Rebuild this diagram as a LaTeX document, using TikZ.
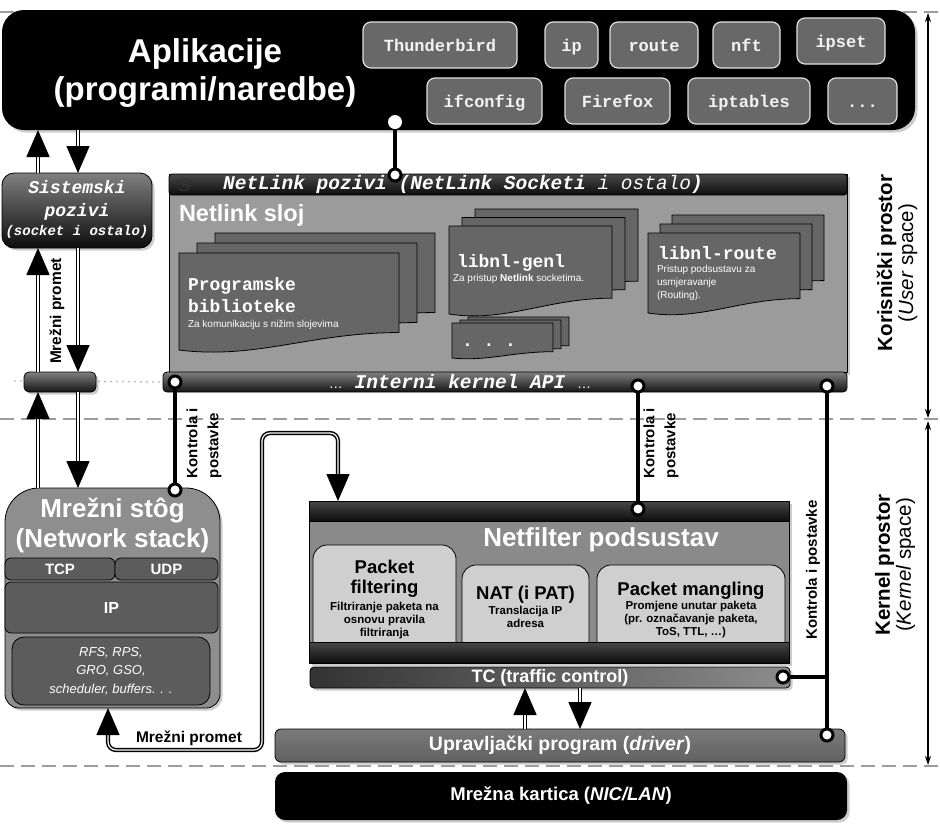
\documentclass[tikz,border=0pt]{standalone}
\usepackage{fontspec}
\setmainfont{Liberation Sans}
\setmonofont{Liberation Mono}
\usetikzlibrary{arrows.meta,shadows}

\definecolor{nlgray}{HTML}{9B9B9B}
\definecolor{docgray}{HTML}{666666}
\definecolor{toolgray}{HTML}{686868}
\definecolor{stackgray}{HTML}{8E8E8E}
\definecolor{layergray}{HTML}{5C5C5C}
\definecolor{nfgray}{HTML}{8A8A8A}
\definecolor{subgray}{HTML}{CFCFCF}
\definecolor{divgray}{HTML}{9C9C9C}
\definecolor{drvgray}{HTML}{6B6B6B}

\tikzset{
  every node/.style={inner sep=0pt, outer sep=0pt},
  boxshadow/.style={drop shadow={shadow xshift=2.5pt, shadow yshift=-2.5pt, opacity=.4}},
  appbox/.style={fill=black, rounded corners=22pt},
  apptitle/.style={text=white, font=\bfseries\fontsize{33}{38}\selectfont, align=center, anchor=north},
  tool/.style={fill=toolgray, draw=black!12, line width=1.2pt, rounded corners=8pt, text=black!5,
    font=\ttfamily\bfseries\fontsize{17}{20}\selectfont, minimum height=46pt, text height=13pt, text depth=0pt},
  syscall/.style={top color=black!50, bottom color=black!95, draw=black, line width=.8pt, rounded corners=12pt},
  calltext/.style={text=white, font=\ttfamily\bfseries\itshape\fontsize{18}{23}\selectfont, align=center},
  darkbar/.style={top color=black!72, bottom color=black!95, draw=black, line width=.8pt},
  apibar/.style={top color=black!50, bottom color=black!92, draw=black, line width=.8pt, rounded corners=4pt},
  docpage/.style={fill=docgray, draw=black, line width=.8pt},
  doctitle/.style={text=white, font=\ttfamily\bfseries\fontsize{18}{22}\selectfont, anchor=base west},
  docnote/.style={text=white, font=\fontsize{10}{13}\selectfont, anchor=base west, align=left},
  layer/.style={fill=layergray, draw=black, line width=.8pt, rounded corners=6pt, text=white,
    font=\bfseries\fontsize{15}{18}\selectfont},
  subbox/.style={fill=subgray, draw=black, line width=.8pt, rounded corners=14pt},
  subtitle/.style={font=\bfseries\fontsize{18.5}{20}\selectfont, align=center, anchor=north},
  subnote/.style={font=\bfseries\fontsize{11.5}{13}\selectfont, align=center, anchor=north},
  tcbar/.style={left color=black!80, right color=black!45, draw=black, line width=.8pt, rounded corners=4pt,
    text=white, font=\bfseries\fontsize{18}{20}\selectfont},
  traffic/.style={draw=black, double=white, double distance=1.2pt, line width=1.5pt,
    -{Triangle[length=27pt,width=23pt]}},
  ctrlline/.style={draw=black, line width=4pt},
  joint/.style={circle, fill=white, draw=black, line width=3pt, minimum size=12pt},
  ctrllabel/.style={rotate=90, font=\bfseries\fontsize{15}{21}\selectfont, align=left, anchor=west},
  divider/.style={draw=divgray, line width=2.5pt, dash pattern=on 14pt off 7pt},
  span/.style={line width=1.2pt, {Stealth[length=9pt,width=6pt]}-{Stealth[length=9pt,width=6pt]}},
  sidelabel/.style={rotate=90, align=center, font=\fontsize{20.5}{21}\selectfont},
}

% three stacked pages: x, y, width, height, dx, dy
\newcommand\libstack[6]{%
  \foreach \k in {2,1,0}{%
    \pgfmathsetmacro\pgx{#1+\k*#5}\pgfmathsetmacro\pgy{#2-\k*#6}%
    \draw[docpage] (\pgx,\pgy) -- ({\pgx+#3},\pgy) -- ({\pgx+#3},{\pgy+0.82*#4})
      .. controls ({\pgx+0.6*#3},{\pgy+0.82*#4}) and ({\pgx+0.35*#3},{\pgy+1.1*#4}) .. (\pgx,{\pgy+#4}) -- cycle;
  }}

\begin{document}
\begin{tikzpicture}[x=1pt, y=-1pt]
\useasboundingbox (0,0) rectangle (940,831);

% granice prostora
\draw[divider] (0,12) -- (940,12);
\draw[divider] (0,419) -- (940,419);
\draw[divider] (0,766) -- (940,766);

% aplikacije
\node[appbox, boxshadow, minimum width=913pt, minimum height=120pt] (apps) at (458.5,70) {};
\node[apptitle] (apptitle) at (205,39) {Aplikacije\\(programi/naredbe)};
\node[tool, minimum width=154pt] (thunderbird) at (440,45) {Thunderbird};
\node[tool, minimum width=53pt] (ip) at (571.5,45) {ip};
\node[tool, minimum width=88pt] (route) at (654,45) {route};
\node[tool, minimum width=67pt] (nft) at (746.5,45) {nft};
\node[tool, minimum width=88pt] (ipset) at (841,41) {ipset};
\node[tool, minimum width=115pt] (ifconfig) at (484.5,101) {ifconfig};
\node[tool, minimum width=105pt] (firefox) at (617.5,101) {Firefox};
\node[tool, minimum width=122pt] (iptables) at (749,101) {iptables};
\node[tool, minimum width=69pt] (moretools) at (862.5,101) {...};

% sistemski pozivi
\node[syscall, boxshadow, minimum width=150pt, minimum height=75pt] (syscalls) at (77,210.5) {};
\node[calltext, anchor=north] (calltitle) at (77,180) {Sistemski\\pozivi};
\node[calltext, anchor=base, font=\ttfamily\bfseries\itshape\fontsize{14}{16}\selectfont] (callnote) at (77,235) {(socket i ostalo)};

% netlink sloj
\node[fill=nlgray, draw=black, line width=.8pt, boxshadow, minimum width=678pt, minimum height=198pt] (netlink) at (508,273) {};
\node[darkbar, rounded corners=3pt, minimum width=678pt, minimum height=21pt] (nlcalls) at (508,184.5) {};
\node[anchor=base west, font=\fontsize{18}{20}\selectfont, text=black!80] (nlmark) at (178,191) {S};
\node[anchor=base, text=white, font=\ttfamily\itshape\fontsize{19.5}{21}\selectfont] (nlcalltext) at (463,189)
  {\textbf{NetLink pozivi (NetLink Socketi} i ostalo\textbf{)}};
\node[anchor=base west, text=white, font=\bfseries\fontsize{23.5}{26}\selectfont] (nltitle) at (179,221) {Netlink sloj};

\libstack{179}{253}{220}{97}{18}{10}
\libstack{449}{226}{163}{88}{13}{8.5}
\libstack{648}{233}{152}{80}{12}{9}
\libstack{452}{323}{101}{35}{8}{3}
\node[doctitle] (libsA) at (188,290) {Programske};
\node[doctitle] (libsB) at (188,312) {biblioteke};
\node[docnote] (libsnote) at (188,327) {Za komunikaciju s nižim slojevima};
\node[doctitle] (genl) at (457,267) {libnl-genl};
\node[docnote] (genlnote) at (453,281) {Za pristup \textbf{Netlink} socketima.};
\node[doctitle] (nlroute) at (658,259) {libnl-route};
\node[docnote, anchor=north west] (routenote) at (657,265) {Pristup podsustavu za\\usmjeravanje\\(Routing).};
\node[doctitle] (moredocs) at (462,346) {. . .};

\node[apibar, minimum width=684pt, minimum height=20pt] (kapi) at (505,382) {};
\node[anchor=base, text=white, font=\ttfamily\bfseries\itshape\fontsize{19.5}{21}\selectfont] (kapitext) at (460,388)
  {{\normalfont\fontsize{14}{16}\selectfont …} Interni kernel API {\normalfont\fontsize{14}{16}\selectfont …}};

% most prema mreznom stogu
\coordinate (bridgeleft) at (15,381);
\draw[black!35, line width=1.8pt, dash pattern=on 0pt off 6pt, line cap=round] (bridgeleft) -- (kapi.west);
\node[apibar, rounded corners=5pt, boxshadow, minimum width=72pt, minimum height=20pt] (bridge) at (60,382) {};

% mrezni stog
\node[minimum width=215pt, minimum height=220pt] (stack) at (112.5,598) {};
\draw[fill=stackgray, draw=black, line width=.8pt, boxshadow] (stack.west) [rounded corners=34pt] -- (stack.north west)
  -- (stack.north east) -- (stack.east) [rounded corners=14pt] -- (stack.south east) -- (stack.south west) -- cycle;
\node[anchor=north, align=center, text=white, font=\bfseries\fontsize{26}{30}\selectfont] (stacktitle) at (112.5,498)
  {Mrežni stôg\\(Network stack)};
\node[layer, minimum width=110pt, minimum height=22pt] (tcp) at (60,569) {TCP};
\node[layer, minimum width=103pt, minimum height=22pt] (udp) at (166.5,569) {UDP};
\node[layer, minimum width=213pt, minimum height=51pt, font=\bfseries\fontsize{16}{18}\selectfont] (iplayer) at (111.5,607.5) {IP};
\node[layer, rounded corners=12pt, minimum width=198pt, minimum height=68pt, align=center,
  font=\itshape\fontsize{13}{18.5}\selectfont] (rfs) at (111,671) {RFS, RPS,\\GRO, GSO,\\scheduler, buffers. . .};

% netfilter
\node[fill=nfgray, draw=black, line width=.8pt, boxshadow, minimum width=480pt, minimum height=162pt] (netfilter) at (549,582) {};
\node[text=white, font=\bfseries\fontsize{26}{28}\selectfont] (nftitle) at (601,540) {Netfilter podsustav};
\node[subbox, minimum width=143pt, minimum height=110pt] (filt) at (384.5,600) {};
\node[subbox, minimum width=127pt, minimum height=90pt] (nat) at (525.5,610) {};
\node[subbox, minimum width=188pt, minimum height=90pt] (mangle) at (691,610) {};
\node[darkbar, minimum width=480pt, minimum height=20pt] (nftop) at (549,511) {};
\node[darkbar, minimum width=480pt, minimum height=21pt] (nfbot) at (549,652.5) {};
\node[subtitle] (filttitle) at (384.5,560) {Packet\\filtering};
\node[subnote] (filtnote) at (384.5,602.5) {Filtriranje paketa na\\osnovu pravila\\filtriranja};
\node[subtitle] (nattitle) at (525.5,586.5) {NAT (i PAT)};
\node[subnote] (natnote) at (525.5,606.5) {Translacija IP\\adresa};
\node[subtitle] (mangletitle) at (691,582) {Packet mangling};
\node[subnote] (manglenote) at (691,601.5) {Promjene unutar paketa\\(pr. označavanje paketa,\\ToS, TTL, …)};

\node[tcbar, boxshadow, minimum width=480pt, minimum height=21pt] (tc) at (550,677.5) {TC (traffic control)};

% upravljacki program i kartica
\node[top color=black!52, bottom color=black!62, draw=black, line width=.8pt, rounded corners=6pt, boxshadow,
  text=white, font=\bfseries\fontsize{19.5}{21}\selectfont, minimum width=570pt, minimum height=33pt] (driver) at (560,745.5)
  {Upravljački program (\textit{driver})};
\node[fill=black, rounded corners=10pt, boxshadow, text=white, font=\bfseries\fontsize{18.5}{20}\selectfont,
  minimum width=572pt, minimum height=48pt] (nic) at (561,796) {Mrežna kartica (\textit{NIC/LAN})};

% mrezni promet
\coordinate (upl) at (38,0);
\coordinate (dnl) at (78,0);
\draw[traffic] (upl |- syscalls.north) -- (upl |- apps.south);
\draw[traffic] (dnl |- apps.south) -- (dnl |- syscalls.north);
\draw[traffic] (upl |- bridge.north) -- (upl |- syscalls.south);
\draw[traffic] (dnl |- syscalls.south) -- (dnl |- bridge.north);
\draw[traffic] (upl |- stack.north) -- (upl |- bridge.south);
\draw[traffic] (dnl |- bridge.south) -- (dnl |- stack.north);
\node[rotate=90, font=\bfseries\fontsize{15.5}{17}\selectfont] (trafficup) at (57,311) {Mrežni promet};

\coordinate (loopin) at (108,0);
\coordinate (loopout) at (338,0);
\coordinate (loopa) at (262,750);
\coordinate (loopb) at (262,433);
\draw[traffic, rounded corners=8pt, {Triangle[length=27pt,width=23pt]}-{Triangle[length=27pt,width=23pt]}]
  (loopin |- stack.south) |- (loopa) -- (loopb) -| (loopout |- netfilter.north);
\node[font=\bfseries\fontsize{15.5}{17}\selectfont] (trafficloop) at (189,738) {Mrežni promet};

\coordinate (tcup) at (525,0);
\coordinate (tcdn) at (580,0);
\draw[traffic] (tcup |- driver.north) -- (tcup |- tc.south);
\draw[traffic] (tcdn |- tc.south) -- (tcdn |- driver.north);

% kontrola i postavke
\node[joint, draw=none, minimum size=14pt] (appjoint) at (395,122) {};
\node[joint] (calljoint) at (395,175) {};
\node[joint] (apistack) at (175,382) {};
\node[joint] (stackjoint) at (175,490) {};
\node[joint] (apinf) at (638,386) {};
\node[joint] (nfjoint) at (638,509) {};
\node[joint] (apidrv) at (827,386) {};
\node[joint] (drvjoint) at (827,735) {};
\node[joint] (tcjoint) at (783,677) {};
\draw[ctrlline] (appjoint) -- (calljoint);
\draw[ctrlline] (apistack) -- (stackjoint);
\draw[ctrlline] (apinf) -- (nfjoint);
\draw[ctrlline] (apidrv) -- (drvjoint);
\draw[ctrlline] (tcjoint) -- (tcjoint -| apidrv);
\node[ctrllabel] (ctrlstack) at (204,478) {Kontrola i\\postavke};
\node[ctrllabel] (ctrlnf) at (661,478) {Kontrola i\\postavke};
\node[ctrllabel, anchor=center] (ctrldrv) at (813,570) {Kontrola i postavke};

% korisnicki i kernel prostor
\coordinate (usertop) at (928,13);
\coordinate (userbot) at (928,418);
\coordinate (kerntop) at (928,421);
\coordinate (kernbot) at (928,765);
\draw[span] (usertop) -- (userbot);
\draw[span] (kerntop) -- (kernbot);
\node[sidelabel] (userlabel) at (897,263) {\textbf{Korisnički prostor}\\(\textit{User} space)};
\node[sidelabel] (kernlabel) at (895,565) {\textbf{Kernel prostor}\\(\textit{Kernel} space)};
\end{tikzpicture}
\end{document}
